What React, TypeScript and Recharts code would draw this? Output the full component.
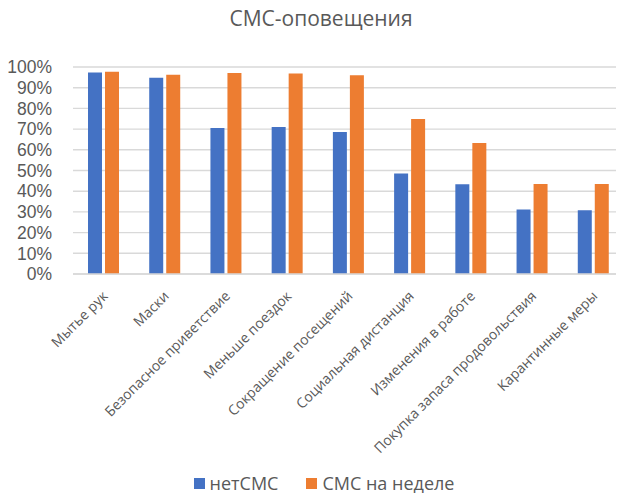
import React from 'react';
import { BarChart, Bar, XAxis, YAxis, CartesianGrid, Legend } from 'recharts';

const categories = [
  'Мытье рук',
  'Маски',
  'Безопасное приветствие',
  'Меньше поездок',
  'Сокращение посещений',
  'Социальная дистанция',
  'Изменения в работе',
  'Покупка запаса продовольствия',
  'Карантинные меры',
];
const noSms = [0.974, 0.948, 0.705, 0.71, 0.686, 0.486, 0.433, 0.311, 0.308];
const smsWeek = [0.977, 0.963, 0.971, 0.969, 0.96, 0.749, 0.633, 0.435, 0.435];
const yTicks = [0, 0.1, 0.2, 0.3, 0.4, 0.5, 0.6, 0.7, 0.8, 0.9, 1];

const seriesNames = ['нетСМС', 'СМС на неделе'];
const colors = ['#4472c4', '#ed7d31'];
const font = '"Open Sans", sans-serif';
// у Liberation Sans строка ниже, подписи оси Y не наезжают друг на друга
const tickFont = '"Liberation Sans", sans-serif';
const textColor = '#595959';

const data = categories.map((name, i) => ({ name, noSms: noSms[i], smsWeek: smsWeek[i] }));

const XTick = ({ x, y, payload }: any) => {
  const tx = x + 5;
  const ty = y + 15;
  return (
    <text
      x={tx}
      y={ty}
      transform={`rotate(-45 ${tx} ${ty})`}
      textAnchor="end"
      fill={textColor}
      fontSize={14}
      fontFamily={font}
    >
      {payload.value}
    </text>
  );
};

// легенда как в Excel: квадрат + подпись
const LegendContent = () => (
  <div style={{ display: 'flex', justifyContent: 'center', fontFamily: font, fontSize: 18, color: textColor, paddingLeft: 24 }}>
    {seriesNames.map((n, i) => (
      <div key={n} style={{ display: 'flex', alignItems: 'center', marginRight: i === 0 ? 28 : 0 }}>
        <span style={{ width: 11, height: 11, background: colors[i], display: 'inline-block', marginRight: 5 }} />
        <span>{n}</span>
      </div>
    ))}
  </div>
);

export default function App() {
  return (
    <div style={{ position: 'relative', width: 624, height: 501, margin: -8, background: '#fff', overflow: 'hidden' }}>
      <div
        style={{
          position: 'absolute',
          top: 4,
          left: 0,
          width: 642,
          textAlign: 'center',
          fontFamily: font,
          fontSize: 21,
          color: textColor,
        }}
      >
        СМС-оповещения
      </div>
      <BarChart
        width={624}
        height={501}
        data={data}
        margin={{ top: 67, right: 0, left: 0, bottom: 0 }}
        barSize={14}
        barGap={3}
      >
        <CartesianGrid vertical={false} stroke="#d9d9d9" strokeWidth={1.4} />
        <XAxis
          dataKey="name"
          interval={0}
          height={197}
          tick={<XTick />}
          tickLine={false}
          axisLine={{ stroke: '#d9d9d9', strokeWidth: 1.4 }}
        />
        <YAxis
          domain={[0, 1]}
          ticks={yTicks}
          interval={0}
          width={73}
          axisLine={false}
          tickLine={false}
          tickMargin={15}
          tickFormatter={(v: number) => `${Math.round(v * 100)}%`}
          tick={{ fill: textColor, fontSize: 17.5, fontFamily: tickFont }}
        />
        <Legend verticalAlign="bottom" height={30} content={<LegendContent />} />
        <Bar dataKey="noSms" name={seriesNames[0]} fill={colors[0]} isAnimationActive={false} />
        <Bar dataKey="smsWeek" name={seriesNames[1]} fill={colors[1]} isAnimationActive={false} />
      </BarChart>
    </div>
  );
}
